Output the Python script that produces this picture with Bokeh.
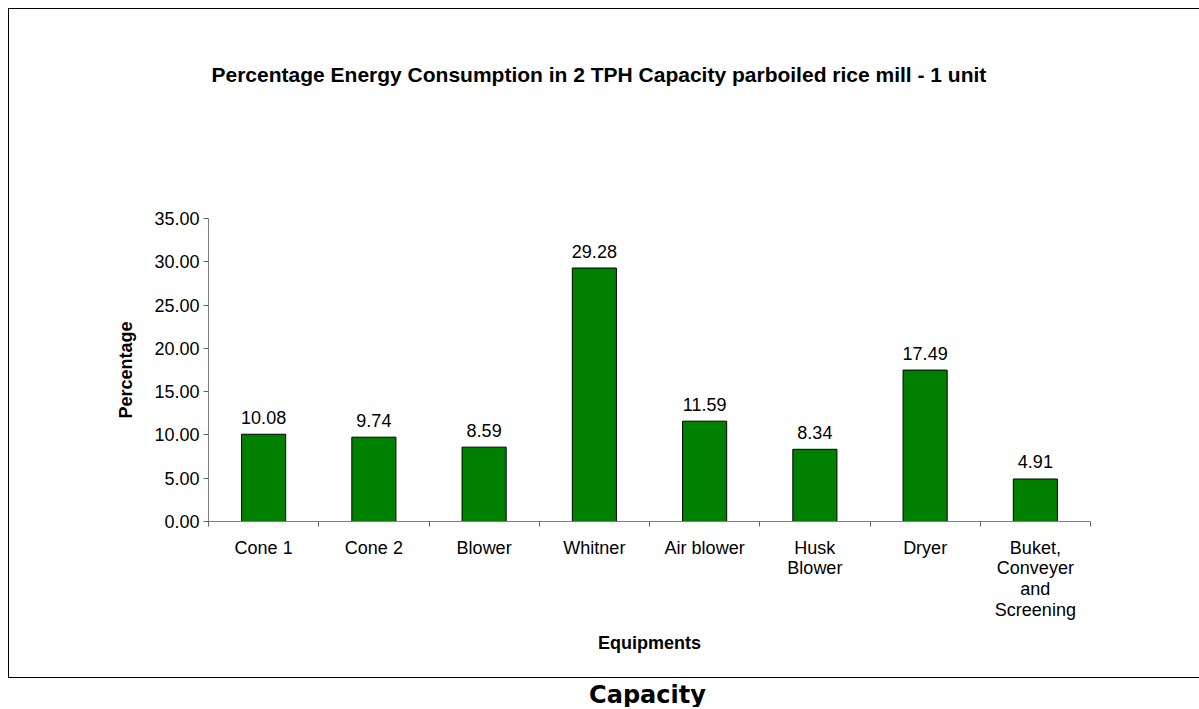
from bokeh.plotting import figure
from bokeh.models import (Range1d, FixedTicker, NumeralTickFormatter, Label, Title, ColumnDataSource)
from bokeh.layouts import column
from bokeh.embed import file_html
from bokeh.resources import INLINE

# ---- data ----
categories = ["Cone 1", "Cone 2", "Blower", "Whitner", "Air blower",
              "Husk\nBlower", "Dryer", "Buket,\nConveyer\nand\nScreening"]
percentages = [10.08, 9.74, 8.59, 29.28, 11.59, 8.34, 17.49, 4.91]
y_ticks = [0, 5, 10, 15, 20, 25, 30, 35]

title_text = "Percentage Energy Consumption in 2 TPH Capacity parboiled rice mill - 1 unit"
FONT = "Liberation Sans"

n = len(categories)
centers = [i + 0.5 for i in range(n)]
bounds = [float(i) for i in range(n + 1)]

src = ColumnDataSource(dict(x=centers, top=percentages,
                            label=["%.2f" % v for v in percentages]))

p = figure(width=1191, height=670, output_backend="svg", toolbar_location=None,
           x_range=Range1d(0, n), y_range=Range1d(0, 35),
           min_border_left=199, min_border_right=110, min_border_top=209,
           min_border_bottom=158,
           styles={"border": "1px solid black", "border-right": "none"})
p.outline_line_color = None
p.xgrid.visible = False
p.ygrid.visible = False
p.background_fill_color = "white"
p.border_fill_color = "white"

p.vbar(x="x", top="top", width=0.4, bottom=0, source=src,
       fill_color="#008000", line_color="black", line_width=1)
p.text(x="x", y="top", text="label", source=src, text_align="center",
       text_baseline="alphabetic", y_offset=-17,
       text_font={"value": FONT}, text_font_size="18px", text_color="black")

# y axis
ya = p.yaxis[0]
ya.ticker = FixedTicker(ticks=y_ticks, minor_ticks=[])
ya.formatter = NumeralTickFormatter(format="0.00")
ya.axis_line_color = "#808080"
ya.major_tick_line_color = "#606060"
ya.major_tick_out = 5
ya.major_tick_in = 0
ya.major_label_standoff = 4
ya.major_label_text_font = FONT
ya.major_label_text_font_size = "18px"
ya.major_label_text_color = "black"
ya.axis_label = "Percentage"
ya.axis_label_text_font = FONT
ya.axis_label_text_font_style = "bold"
ya.axis_label_text_font_size = "18px"
ya.axis_label_text_color = "black"
ya.axis_label_standoff = 15

# x axis
xa = p.xaxis[0]
xa.ticker = FixedTicker(ticks=centers, minor_ticks=bounds)
xa.major_label_overrides = {c: lab for c, lab in zip(centers, categories)}
xa.axis_line_color = "#808080"
xa.major_tick_line_color = None
xa.major_tick_out = 5
xa.major_tick_in = 0
xa.minor_tick_line_color = "#606060"
xa.minor_tick_out = 5
xa.minor_tick_in = 0
xa.major_label_standoff = 11
xa.major_label_text_font = FONT
xa.major_label_text_font_size = "18px"
xa.major_label_text_color = "black"
xa.major_label_text_line_height = 1.04
xa.axis_label = "Equipments"
xa.axis_label_text_font = FONT
xa.axis_label_text_font_style = "bold"
xa.axis_label_text_font_size = "18px"
xa.axis_label_text_color = "black"
xa.axis_label_standoff = 10

# spacer between frame and chart title, then the title itself
p.add_layout(Title(text=" ", text_font_size="10px", standoff=115), "above")
p.add_layout(Title(text=title_text, align="left", offset=3, text_font=FONT,
                   text_font_style="bold", text_font_size="21px",
                   text_color="black"), "above")

# caption below the box
p2 = figure(width=1191, height=29, output_backend="svg", toolbar_location=None,
            x_range=Range1d(0, 1), y_range=Range1d(0, 1), min_border=0)
p2.axis.visible = False
p2.grid.visible = False
p2.outline_line_color = None
p2.add_layout(Label(x=440, y=13, x_units="screen", y_units="screen",
                    text="Capacity", text_font="DejaVu Sans", text_font_style="bold",
                    text_font_size="24px", text_align="center",
                    text_baseline="middle", text_color="black"))

layout = column(p, p2, spacing=0, margin=(8, 0, 0, 8))
open("out.html", "w").write(file_html(layout, INLINE))
